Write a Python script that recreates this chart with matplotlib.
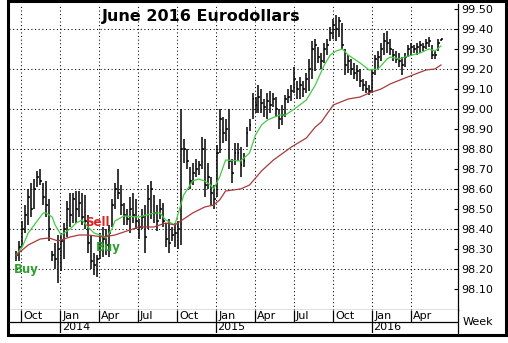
import numpy as np
import pandas as pd
import matplotlib
matplotlib.use('Agg')
import matplotlib.pyplot as plt
import matplotlib.dates as mdates
from matplotlib.patches import Rectangle

W, H = 508, 343

# weekly bars, June 2016 Eurodollar futures
weeks = pd.date_range('2013-09-20', periods=143, freq='7D')

highs = [
    98.29, 98.34, 98.44, 98.52, 98.60, 98.63, 98.65, 98.69, 98.70, 98.63,
    98.64, 98.55, 98.29, 98.33, 98.37, 98.38, 98.43, 98.54, 98.58, 98.58,
    98.59, 98.59, 98.58, 98.57, 98.47, 98.37, 98.28, 98.27, 98.38, 98.41,
    98.40, 98.42, 98.55, 98.63, 98.70, 98.62, 98.53, 98.50, 98.56, 98.58,
    98.55, 98.45, 98.50, 98.52, 98.62, 98.64, 98.57, 98.52, 98.55, 98.53,
    98.43, 98.45, 98.41, 98.43, 98.44, 99.00, 98.85, 98.80, 98.71, 98.73,
    98.75, 98.74, 98.86, 98.85, 98.73, 98.66, 98.62, 98.82, 99.00, 98.96,
    98.95, 99.00, 98.75, 98.83, 98.83, 98.81, 98.78, 98.91, 98.95, 99.08,
    99.06, 99.12, 99.10, 99.05, 99.08, 99.09, 99.08, 99.06, 99.00, 99.02,
    99.07, 99.10, 99.12, 99.21, 99.14, 99.16, 99.14, 99.18, 99.25, 99.34,
    99.35, 99.31, 99.28, 99.33, 99.35, 99.41, 99.45, 99.47, 99.46, 99.43,
    99.30, 99.27, 99.25, 99.23, 99.22, 99.20, 99.15, 99.14, 99.12, 99.20,
    99.27, 99.29, 99.33, 99.38, 99.39, 99.35, 99.30, 99.29, 99.28, 99.26,
    99.28, 99.32, 99.33, 99.32, 99.33, 99.34, 99.33, 99.35, 99.36, 99.32,
    99.29, 99.35, 99.35,
]
lows = [
    98.24, 98.24, 98.31, 98.38, 98.42, 98.46, 98.50, 98.61, 98.62, 98.52,
    98.46, 98.34, 98.24, 98.20, 98.13, 98.19, 98.25, 98.36, 98.41, 98.43,
    98.43, 98.46, 98.42, 98.40, 98.28, 98.20, 98.17, 98.16, 98.25, 98.26,
    98.27, 98.26, 98.41, 98.50, 98.55, 98.47, 98.42, 98.42, 98.38, 98.43,
    98.40, 98.35, 98.40, 98.28, 98.40, 98.45, 98.43, 98.39, 98.45, 98.41,
    98.31, 98.28, 98.34, 98.31, 98.30, 98.32, 98.73, 98.70, 98.60, 98.62,
    98.66, 98.67, 98.70, 98.56, 98.60, 98.52, 98.50, 98.56, 98.78, 98.83,
    98.84, 98.70, 98.63, 98.72, 98.74, 98.66, 98.71, 98.81, 98.89, 98.95,
    98.98, 98.98, 98.98, 98.96, 98.95, 98.98, 99.01, 98.96, 98.90, 98.92,
    98.96, 99.03, 99.04, 99.08, 99.05, 99.05, 99.06, 99.08, 99.09, 99.15,
    99.19, 99.23, 99.20, 99.23, 99.27, 99.34, 99.35, 99.34, 99.36, 99.30,
    99.17, 99.18, 99.17, 99.15, 99.14, 99.11, 99.09, 99.08, 99.07, 99.08,
    99.17, 99.20, 99.24, 99.27, 99.28, 99.27, 99.24, 99.23, 99.21, 99.17,
    99.21, 99.26, 99.27, 99.28, 99.27, 99.28, 99.29, 99.30, 99.31, 99.25,
    99.25, 99.29, 99.34,
]
closes = [
    98.27, 98.31, 98.40, 98.47, 98.56, 98.50, 98.60, 98.66, 98.64, 98.56,
    98.52, 98.40, 98.27, 98.25, 98.30, 98.34, 98.40, 98.50, 98.47, 98.55,
    98.50, 98.53, 98.46, 98.44, 98.33, 98.24, 98.22, 98.25, 98.33, 98.35,
    98.32, 98.38, 98.52, 98.60, 98.58, 98.52, 98.47, 98.45, 98.50, 98.47,
    98.44, 98.41, 98.46, 98.36, 98.55, 98.60, 98.48, 98.44, 98.50, 98.44,
    98.35, 98.33, 98.37, 98.38, 98.40, 98.80, 98.80, 98.74, 98.64, 98.68,
    98.70, 98.72, 98.80, 98.62, 98.66, 98.58, 98.55, 98.78, 98.95, 98.88,
    98.90, 98.74, 98.68, 98.78, 98.78, 98.72, 98.74, 98.88, 98.92, 99.05,
    99.02, 99.06, 99.03, 99.01, 99.04, 99.02, 99.05, 99.00, 98.95, 98.97,
    99.05, 99.06, 99.09, 99.15, 99.10, 99.12, 99.10, 99.15, 99.20, 99.30,
    99.32, 99.26, 99.24, 99.30, 99.32, 99.38, 99.42, 99.40, 99.44, 99.32,
    99.22, 99.24, 99.20, 99.18, 99.19, 99.14, 99.12, 99.10, 99.09, 99.18,
    99.25, 99.26, 99.30, 99.34, 99.33, 99.30, 99.27, 99.25, 99.24, 99.22,
    99.26, 99.30, 99.31, 99.30, 99.31, 99.32, 99.31, 99.33, 99.34, 99.27,
    99.27, 99.33, 99.35,
]

# moving averages (short = green, long = red), sampled at these bar numbers
fast_idx = [0, 2, 4, 7, 9, 10, 12, 13, 15, 18, 20, 22, 24, 26, 28, 30, 32, 33, 36, 41,
            46, 48, 50, 53, 56, 59, 61, 63, 65, 66, 68, 70, 75, 78, 80, 82, 84, 88, 90, 93,
            97, 98, 100, 103, 105, 107, 109, 111, 115, 118, 121, 124, 125, 128, 130, 135,
            138, 140, 142]
fast_val = [98.27, 98.31, 98.38, 98.44, 98.48, 98.48, 98.46, 98.42, 98.37, 98.40,
            98.43, 98.445, 98.41, 98.38, 98.37, 98.355, 98.40, 98.44, 98.465, 98.46,
            98.48, 98.48, 98.445, 98.42, 98.57, 98.64, 98.65, 98.64, 98.62, 98.60,
            98.66, 98.745, 98.74, 98.78, 98.87, 98.92, 98.945, 98.97, 98.97, 99.00,
            99.045, 99.07, 99.12, 99.22, 99.27, 99.29, 99.30, 99.27, 99.23, 99.195,
            99.20, 99.25, 99.26, 99.25, 99.26, 99.28, 99.30, 99.29, 99.315]
slow_idx = [0, 4, 8, 11, 14, 18, 21, 24, 29, 33, 36, 41, 46, 50, 53, 56, 59, 63, 66, 68,
            70, 75, 78, 82, 86, 92, 97, 100, 102, 106, 111, 115, 118, 122, 125, 130, 137,
            140, 142]
slow_val = [98.27, 98.32, 98.35, 98.355, 98.34, 98.36, 98.37, 98.37, 98.36, 98.37,
            98.385, 98.41, 98.41, 98.43, 98.42, 98.45, 98.48, 98.51, 98.52, 98.545,
            98.59, 98.60, 98.62, 98.69, 98.745, 98.81, 98.855, 98.91, 98.935, 99.02,
            99.05, 99.06, 99.08, 99.10, 99.125, 99.155, 99.195, 99.20, 99.22]

signal_text = ['Buy', 'Sell', 'Buy']
signal_date = ['2013-10-13', '2014-03-28', '2014-04-23']
signal_price = [98.195, 98.435, 98.31]
signal_color = ['#2e9e2e', '#e02020', '#2e9e2e']

price_ticks = [98.10, 98.20, 98.30, 98.40, 98.50, 98.60, 98.70, 98.80,
               98.90, 99.00, 99.10, 99.20, 99.30, 99.40, 99.50]
grid_prices = [98.20, 98.40, 98.60, 98.80, 99.00, 99.20, 99.40]
month_dates = ['2013-10-01', '2014-01-01', '2014-04-01', '2014-07-01', '2014-10-01',
               '2015-01-01', '2015-04-01', '2015-07-01', '2015-10-01', '2016-01-01',
               '2016-04-01']
month_names = ['Oct', 'Jan', 'Apr', 'Jul', 'Oct', 'Jan', 'Apr', 'Jul', 'Oct', 'Jan', 'Apr']
year_dates = ['2014-01-01', '2015-01-01', '2016-01-01']
year_names = ['2014', '2015', '2016']

plt.rcParams['font.family'] = ['DejaVu Sans']

x = mdates.date2num(weeks.to_pydatetime())
mx = mdates.date2num(pd.to_datetime(month_dates).to_pydatetime())
yx = mdates.date2num(pd.to_datetime(year_dates).to_pydatetime())
x0 = mdates.date2num(pd.Timestamp('2013-09-03').to_pydatetime())
x1 = mdates.date2num(pd.Timestamp('2016-07-20').to_pydatetime())

fig = plt.figure(figsize=(W / 100, H / 100), dpi=100)
ax = fig.add_axes([9 / W, 33 / H, 449 / W, 306 / H])
ax.set_xlim(x0, x1)
ax.set_ylim(97.995, 99.525)

dot = (0, (1, 2.5))
for p in grid_prices:
    ax.axhline(p, color='black', lw=0.75, ls=dot, zorder=0)
for m in mx:
    ax.axvline(m, color='black', lw=0.75, ls=dot, zorder=0)

ax.vlines(x, lows, highs, color='black', lw=1.1, zorder=2)
ax.hlines(closes, x, x + 4.5, color='black', lw=1.1, zorder=2)

ax.plot(x[fast_idx], fast_val, color='#44cc44', lw=0.9, zorder=3)
ax.plot(x[slow_idx], slow_val, color='#a83a3a', lw=0.9, zorder=3)

for txt, d, p, c in zip(signal_text, signal_date, signal_price, signal_color):
    ax.text(mdates.date2num(pd.Timestamp(d).to_pydatetime()), p, txt, color=c,
            fontsize=8.5, fontweight='bold', ha='center', va='center', zorder=4)

ax.yaxis.tick_right()
ax.set_yticks(price_ticks)
ax.set_yticklabels([f'{p:.2f}' for p in price_ticks])
ax.tick_params(axis='y', direction='in', length=3, width=0.8, pad=2, labelsize=8)
ax.set_xticks([])
for side in ('left', 'top'):
    ax.spines[side].set_visible(False)
ax.spines['right'].set_linewidth(0.9)
ax.spines['bottom'].set_linewidth(0.9)

# date strip under the price pane
sx = fig.add_axes([9 / W, 10 / H, 449 / W, 23 / H])
sx.set_xlim(x0, x1)
sx.set_ylim(0, 1)
sx.set_xticks([])
sx.set_yticks([])
for side in ('left', 'top', 'bottom'):
    sx.spines[side].set_visible(False)
sx.spines['right'].set_linewidth(0.9)
mid = 11 / 23
sx.axhline(mid, color='black', lw=0.9)
sx.vlines(mx, mid, 1, color='black', lw=0.9)
sx.vlines(yx, 0, mid, color='black', lw=0.9)
for m, name in zip(mx, month_names):
    sx.annotate(name, (m, (1 + mid) / 2), xytext=(1.5, 0), textcoords='offset points',
                fontsize=8, ha='left', va='center')
for m, name in zip(yx, year_names):
    sx.annotate(name, (m, mid / 2), xytext=(1.0, 0), textcoords='offset points',
                fontsize=8, ha='left', va='center')

fig.text(463 / W, (H - 322) / H, 'Week', fontsize=8, ha='left', va='center')
fig.text(201 / W, (H - 17) / H, 'June 2016 Eurodollars', fontsize=11.5,
         fontweight='heavy', ha='center', va='center')

fig.add_artist(Rectangle((8 / W, 8.5 / H), 498 / W, 333.5 / H, transform=fig.transFigure,
                         fill=False, lw=2.2, ec='black'))

fig.savefig('out.png', dpi=100)
